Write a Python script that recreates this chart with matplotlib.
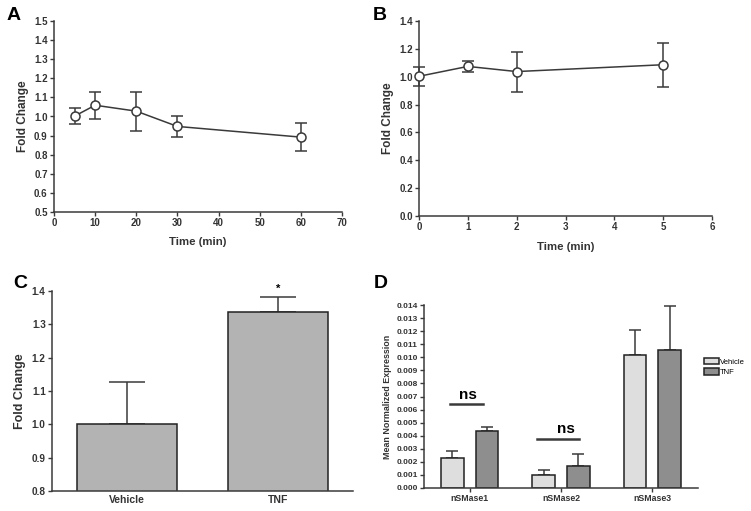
import matplotlib
matplotlib.use("Agg")
import matplotlib.pyplot as plt
import numpy as np

plt.rcParams["font.family"] = ["Liberation Sans", "DejaVu Sans"]
plt.rcParams["font.weight"] = "bold"
plt.rcParams["axes.labelweight"] = "bold"

# Panel A: time course (min)
a_time = [5, 10, 20, 30, 60]
a_fold = [1.002, 1.059, 1.028, 0.948, 0.892]
a_err = [0.042, 0.070, 0.102, 0.054, 0.072]

# Panel B: time course (min)
b_time = [0, 1, 2, 5]
b_fold = [1.003, 1.074, 1.037, 1.086]
b_err = [0.067, 0.037, 0.144, 0.158]

# Panel C: bars
c_groups = ["Vehicle", "TNF"]
c_fold = [1.0, 1.337]
c_err = [0.128, 0.045]

# Panel D: grouped bars
d_genes = ["nSMase1", "nSMase2", "nSMase3"]
d_vehicle = [0.0023, 0.0010, 0.0102]
d_vehicle_err = [0.0005, 0.00035, 0.0019]
d_tnf = [0.00435, 0.00172, 0.01055]
d_tnf_err = [0.00035, 0.00086, 0.00335]

LINE = "#3a3a3a"
W, H = 751, 511

fig = plt.figure(figsize=(W / 100, H / 100), dpi=100)


def axes_px(x0, x1, y0, y1):
    # pixel box (left, right, top, bottom) -> figure fraction
    return fig.add_axes([x0 / W, 1 - y1 / H, (x1 - x0) / W, (y1 - y0) / H])


def style(ax, tsize):
    for s in ["top", "right"]:
        ax.spines[s].set_visible(False)
    for s in ["left", "bottom"]:
        ax.spines[s].set_linewidth(1.1)
        ax.spines[s].set_color(LINE)
    ax.tick_params(length=3, width=1, color=LINE, labelsize=tsize, pad=1.5,
                   labelcolor="#333333")
    for lab in ax.get_xticklabels() + ax.get_yticklabels():
        lab.set_fontweight("bold")


def time_panel(ax, x, y, e):
    ax.errorbar(x, y, yerr=e, color=LINE, lw=1.1, elinewidth=1.1, capsize=4,
                capthick=1.1, marker="o", ms=6.5, mfc="white", mec=LINE,
                mew=1.1, clip_on=False, zorder=3)


# A
ax = axes_px(54, 342, 21, 212)
time_panel(ax, a_time, a_fold, a_err)
ax.set_xlim(0, 70)
ax.set_ylim(0.5, 1.5)
ax.set_xticks(np.arange(0, 71, 10))
ax.set_yticks(np.arange(0.5, 1.51, 0.1))
ax.yaxis.set_major_formatter(matplotlib.ticker.FormatStrFormatter("%.1f"))
ax.set_xlabel("Time (min)", fontsize=8.2, labelpad=6, color="#333333")
ax.set_ylabel("Fold Change", fontsize=8.5, labelpad=4, color="#333333")
style(ax, 7)

# B
ax = axes_px(419, 712, 21, 216)
time_panel(ax, b_time, b_fold, b_err)
ax.set_xlim(0, 6)
ax.set_ylim(0, 1.4)
ax.set_xticks(range(0, 7))
ax.set_yticks(np.arange(0, 1.41, 0.2))
ax.yaxis.set_major_formatter(matplotlib.ticker.FormatStrFormatter("%.1f"))
ax.set_xlabel("Time (min)", fontsize=8.2, labelpad=7, color="#333333")
ax.set_ylabel("Fold Change", fontsize=8.5, labelpad=4, color="#333333")
style(ax, 7)

# C
ax = axes_px(52, 353, 291, 491)
xc = np.arange(len(c_groups))
ax.bar(xc, c_fold, width=0.667, color="#b3b3b3", edgecolor="#222222", lw=1.1,
       zorder=2)
ax.errorbar(xc, c_fold, yerr=[[0, 0], c_err], fmt="none", ecolor=LINE,
            elinewidth=1.1, capsize=13, capthick=1.1, zorder=1)
ax.text(1, c_fold[1] + c_err[1] + 0.008, "*", ha="center", va="bottom",
        fontsize=8, fontweight="bold")
ax.set_xlim(-0.5, 1.5)
ax.set_ylim(0.8, 1.4)
ax.set_xticks(xc)
ax.set_xticklabels(c_groups)
ax.set_yticks(np.arange(0.8, 1.41, 0.1))
ax.yaxis.set_major_formatter(matplotlib.ticker.FormatStrFormatter("%.1f"))
ax.set_ylabel("Fold Change", fontsize=9, labelpad=4, color="#333333")
style(ax, 7.2)
ax.tick_params(axis="x", length=0, pad=3, labelsize=7.5)

# D
ax = axes_px(424, 698, 305, 488)
xd = np.arange(len(d_genes))
off, bw = 0.19, 0.25
ax.bar(xd - off, d_vehicle, width=bw, color="#dedede", edgecolor="#222222",
       lw=1.1, zorder=2, label="Vehicle")
ax.bar(xd + off, d_tnf, width=bw, color="#8e8e8e", edgecolor="#222222",
       lw=1.1, zorder=2, label="TNF")
ax.errorbar(xd - off, d_vehicle, yerr=[np.zeros(3), d_vehicle_err], fmt="none",
            ecolor=LINE, elinewidth=1.1, capsize=4, capthick=1.1, zorder=1)
ax.errorbar(xd + off, d_tnf, yerr=[np.zeros(3), d_tnf_err], fmt="none",
            ecolor=LINE, elinewidth=1.1, capsize=4, capthick=1.1, zorder=1)
# ns brackets
ax.plot([-0.22, 0.145], [0.0064, 0.0064], color=LINE, lw=1.8)
ax.text(-0.02, 0.0066, "ns", ha="center", va="bottom", fontsize=11,
        fontweight="bold")
ax.plot([0.735, 1.2], [0.00376, 0.00376], color=LINE, lw=1.8)
ax.text(1.05, 0.0040, "ns", ha="center", va="bottom", fontsize=11,
        fontweight="bold")
ax.set_xlim(-0.5, 2.5)
ax.set_ylim(0, 0.014)
ax.set_xticks(xd)
ax.set_xticklabels(d_genes)
ax.set_yticks(np.arange(0, 0.01401, 0.001))
ax.yaxis.set_major_formatter(matplotlib.ticker.FormatStrFormatter("%.3f"))
ax.set_ylabel("Mean Normalized Expression", fontsize=6.4, labelpad=3,
              color="#333333")
style(ax, 6)
ax.tick_params(axis="x", labelsize=6.3)
ax.legend(loc="upper left", bbox_to_anchor=(1.022, 0.71), frameon=False,
          handlelength=2.0, handleheight=0.9, handletextpad=0.1,
          labelspacing=0.3, borderpad=0, borderaxespad=0,
          prop={"size": 5.5, "weight": "normal"})

# panel letters
for letter, px, py in [("A", 14, 15), ("B", 380, 15), ("C", 20, 283), ("D", 381, 284)]:
    fig.text(px / W, 1 - py / H, letter, fontsize=14, fontweight="bold",
             ha="center", va="center")

fig.savefig("out.png", dpi=100)
